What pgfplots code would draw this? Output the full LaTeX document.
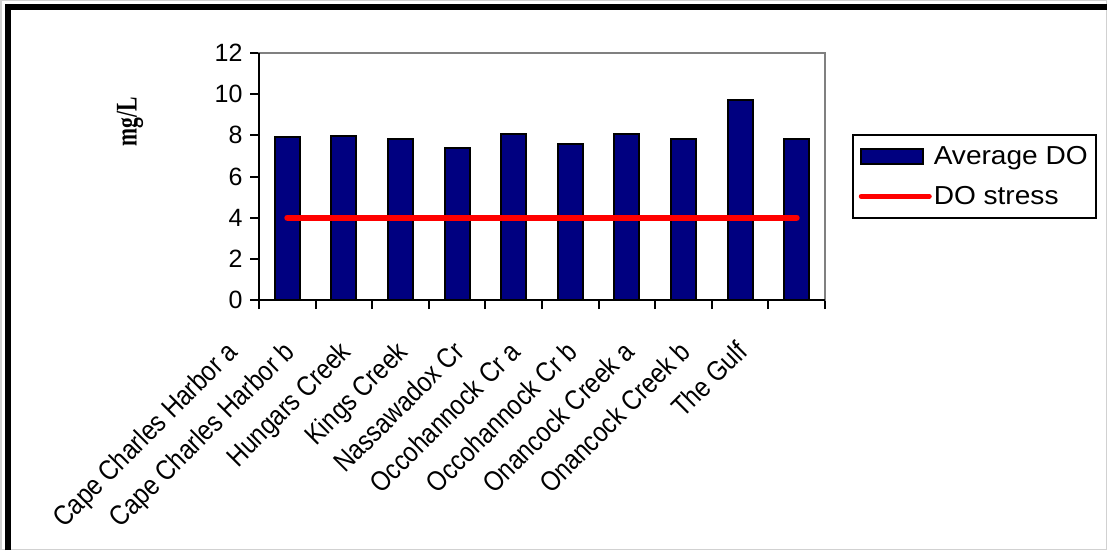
\documentclass[border=0pt]{standalone}
\usepackage{pgfplots}
\pgfplotsset{compat=1.18}
\usepackage{fontspec}
\setmainfont{Liberation Sans}
\newfontfamily\seriffont{Liberation Serif}
\definecolor{barnavy}{RGB}{0,0,128}
\definecolor{framegray}{RGB}{128,128,128}
% condensed category names
\newcommand{\cat}[1]{\scalebox{0.86}[1]{#1}}
\newcommand{\leg}[1]{\scalebox{1.08}[1]{#1}}

\begin{document}
\begin{tikzpicture}
% chart area and its frame
\path[use as bounding box] (0,0) rectangle (1107pt,550pt);
\draw[black!18, line width=1.5pt] (0.75pt,0.75pt) rectangle (1106.25pt,549.25pt);
\draw[black, line width=6pt] (8pt,0pt) -- (8pt,543pt) -- (1107pt,543pt);

\begin{axis}[
  scale only axis, width=566pt, height=247pt,
  at={(259pt,250pt)}, anchor=south west,
  xmin=-0.5, xmax=9.5, ymin=0, ymax=12,
  ytick={0,2,4,6,8,10,12},
  xtick={-0.5,0.5,1.5,2.5,3.5,4.5,5.5,6.5,7.5,8.5,9.5},
  xticklabels={\cat{Cape Charles Harbor a}, \cat{Cape Charles Harbor b},
    \cat{Hungars Creek}, \cat{Kings Creek}, \cat{Nassawadox Cr},
    \cat{Occohannock Cr a}, \cat{Occohannock Cr b},
    \cat{Onancock Creek a}, \cat{Onancock Creek b}, \cat{The Gulf}, {}},
  tick align=outside, tick pos=left,
  major tick length=9pt,
  every tick/.style={black, line width=2pt},
  axis line style={framegray, line width=1.5pt},
  /pgf/number format/assume math mode=true,
  yticklabel style={font=\fontsize{25}{30}\selectfont, xshift=-4pt},
  xticklabel style={font=\fontsize{28}{32}\selectfont, inner sep=0pt,
    anchor=north east, xshift=-34pt, yshift=-30pt, rotate=45},
  ylabel={\seriffont\bfseries\scalebox{0.72}[1]{mg/L}},
  ylabel style={font=\fontsize{30}{34}\selectfont,
    at={(rel axis cs:-0.228,0.72)}, anchor=center, rotate=0},
  legend style={at={(rel axis cs:1.0477,0.672)}, anchor=north west,
    draw=black, line width=1.5pt, font=\fontsize{26}{30}\selectfont,
    inner xsep=6pt, inner ysep=10pt, row sep=16pt,
    /tikz/every even column/.style={column sep=10pt}},
  legend cell align=left,
  clip=false,
]
\addplot[ybar, bar width=25pt, fill=barnavy, draw=black, line width=2pt,
  legend image code/.code={\draw[fill=barnavy, draw=black, line width=2pt]
    (0pt,-7pt) rectangle (62pt,8pt);}]
  coordinates {(0,7.9) (1,7.95) (2,7.8) (3,7.4) (4,8.05) (5,7.6)
               (6,8.05) (7,7.8) (8,9.7) (9,7.8)};
\addlegendentry{\leg{Average DO}}
\addplot[red, line width=6pt, line cap=round,
  legend image code/.code={\draw[red, line width=5pt, line cap=round]
    (0pt,0pt) -- (68pt,0pt);}]
  coordinates {(0,4) (9,4)};
\addlegendentry{\leg{DO stress}}
\draw[black, line width=2pt] (rel axis cs:0,1) -- (rel axis cs:0,0) -- (rel axis cs:1,0);
\end{axis}
\end{tikzpicture}
\end{document}
